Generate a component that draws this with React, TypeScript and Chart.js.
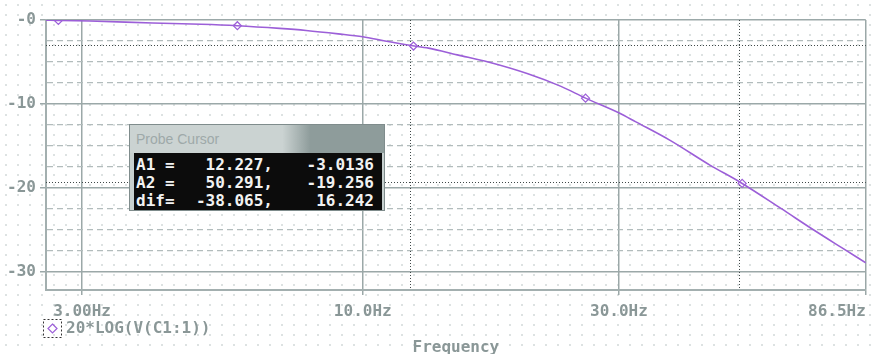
import React, { useEffect, useRef } from "react";
import { Chart, registerables } from "chart.js";

Chart.register(...registerables);

// ---- data ----
const freqHz = [2.57, 2.71, 3.1, 4.06, 5.0, 5.84, 7.0, 7.84, 9.0, 10.0, 11.0, 12.227, 13.26, 15.0, 17.13, 20.3, 23.4, 26.0, 30.1, 32.2, 37.3, 44.4, 50.291, 60.0, 69.2, 78.0, 86.5];
const gainDb = [-0.03, -0.05, -0.12, -0.35, -0.5, -0.68, -1.0, -1.25, -1.65, -2.0, -2.5, -3.0136, -3.35, -4.15, -5.0, -6.4, -7.9, -9.3, -11.1, -12.1, -14.3, -17.3, -19.256, -22.4, -25.0, -27.1, -28.9];

const markerHz = [2.71, 5.84, 12.43, 26.0, 50.9];
const markerDb = [-0.05, -0.68, -3.1, -9.3, -19.45];

const xRange = [2.57, 86.5];
const yRange = [-32.14, 0];

const xTickValues = [3, 10, 30, 86.5];
const xTickLabels = ["3.00Hz", "10.0Hz", "30.0Hz", "86.5Hz"];

const yGridValues = [0, -2.5, -5, -7.5, -10, -12.5, -15, -17.5, -20, -22.5, -25, -27.5, -30];
const yTickValues = [0, -10, -20, -30];
const yTickLabels = ["-0", "-10", "-20", "-30"];

const cursorA1 = [12.227, -3.0136];
const cursorA2 = [50.291, -19.256];
const cursorDif = [-38.065, 16.242];
const cursorText = [
  ["A1 =", "12.227,", "-3.0136"],
  ["A2 =", "50.291,", "-19.256"],
  ["dif=", "-38.065,", "16.242"],
];

const traceName = "20*LOG(V(C1:1))";
const xTitle = "Frequency";
const probeTitle = "Probe Cursor";

// ---- styles ----
const MONO = "'DejaVu Sans Mono', monospace";
const LABEL_GRAY = "#8a9797";
const MAJOR_GRID = "#9ba8a8";
const MINOR_GRID = "#b2bcbc";
const TRACE = "#9c5fd8";

const isMajorY = (v: number) => Math.abs(v % 10) < 1e-6;

const overlayPlugin = {
  id: "overlay",
  beforeDatasetsDraw(chart: any) {
    const { ctx, chartArea, scales } = chart;
    const xs = scales.x;
    const ys = scales.y;
    ctx.save();
    ctx.strokeStyle = "#3f4848";
    ctx.lineWidth = 1;
    ctx.setLineDash([1, 2]);
    [cursorA1[0], cursorA2[0]].forEach((f) => {
      const px = Math.round(xs.getPixelForValue(f)) + 0.5;
      ctx.beginPath();
      ctx.moveTo(px, chartArea.top);
      ctx.lineTo(px, chartArea.bottom);
      ctx.stroke();
    });
    [cursorA1[1], cursorA2[1]].forEach((d) => {
      const py = Math.round(ys.getPixelForValue(d)) + 0.5;
      ctx.beginPath();
      ctx.moveTo(chartArea.left, py);
      ctx.lineTo(chartArea.right, py);
      ctx.stroke();
    });
    ctx.restore();
  },
  afterDraw(chart: any) {
    const { ctx, chartArea } = chart;
    ctx.save();
    // legend
    const bx = chartArea.left - 3;
    const by = chartArea.bottom + 29;
    ctx.strokeStyle = "#333";
    ctx.lineWidth = 1;
    ctx.setLineDash([2, 2]);
    ctx.strokeRect(bx + 0.5, by + 0.5, 18, 18);
    ctx.setLineDash([]);
    const cx = bx + 9.5;
    const cy = by + 9.5;
    ctx.strokeStyle = TRACE;
    ctx.lineWidth = 1.2;
    ctx.beginPath();
    ctx.moveTo(cx, cy - 4.5);
    ctx.lineTo(cx + 4.5, cy);
    ctx.lineTo(cx, cy + 4.5);
    ctx.lineTo(cx - 4.5, cy);
    ctx.closePath();
    ctx.stroke();
    ctx.fillStyle = LABEL_GRAY;
    ctx.font = `bold 16px ${MONO}`;
    ctx.textBaseline = "middle";
    ctx.textAlign = "left";
    ctx.fillText(traceName, bx + 23, cy);
    ctx.restore();
  },
};

export default function App() {
  const canvasRef = useRef<HTMLCanvasElement | null>(null);

  useEffect(() => {
    if (!canvasRef.current) return;
    const chart = new Chart(canvasRef.current, {
      type: "line",
      data: {
        datasets: [
          {
            label: traceName,
            data: freqHz.map((f, i) => ({ x: f, y: gainDb[i] })),
            borderColor: TRACE,
            borderWidth: 1.6,
            pointRadius: 0,
            cubicInterpolationMode: "monotone",
            fill: false,
          },
          {
            label: "markers",
            data: markerHz.map((f, i) => ({ x: f, y: markerDb[i] })),
            showLine: false,
            pointStyle: "rectRot",
            pointRadius: 4,
            pointBorderWidth: 1.2,
            pointBorderColor: TRACE,
            pointBackgroundColor: "#ffffff",
          },
        ],
      },
      options: {
        animation: false,
        responsive: false,
        events: [],
        layout: { padding: { left: 0, top: 20, right: 2, bottom: 0 } },
        plugins: {
          legend: { display: false },
          tooltip: { enabled: false },
        },
        scales: {
          x: {
            type: "logarithmic",
            position: "bottom",
            bounds: "data",
            min: xRange[0],
            max: xRange[1],
            afterBuildTicks: (scale: any) => {
              scale.ticks = xTickValues.map((v) => ({ value: v }));
            },
            afterFit: (scale: any) => {
              scale.height = 64;
              scale.paddingLeft = 0;
              scale.paddingRight = 0;
            },
            ticks: {
              autoSkip: false,
              maxRotation: 0,
              minRotation: 0,
              padding: 7,
              color: LABEL_GRAY,
              font: { family: MONO, size: 16, weight: "bold" },
              callback: (_v: any, i: number) =>
                i === xTickLabels.length - 1
                  ? xTickLabels[i] + " ".repeat(xTickLabels[i].length)
                  : xTickLabels[i],
            },
            grid: {
              color: MAJOR_GRID,
              lineWidth: 1.5,
              tickLength: 5,
              tickColor: MAJOR_GRID,
            },
            border: { display: true, color: "#a3afaf", width: 2 },
            title: {
              display: true,
              text: xTitle,
              color: LABEL_GRAY,
              font: { family: MONO, size: 16, weight: "bold", lineHeight: 1 },
              padding: { top: 0, bottom: -2 },
            },
          },
          y: {
            type: "linear",
            position: "left",
            bounds: "data",
            min: yRange[0],
            max: yRange[1],
            afterBuildTicks: (scale: any) => {
              scale.ticks = yGridValues.map((v) => ({ value: v }));
            },
            afterFit: (scale: any) => {
              scale.width = 46;
            },
            ticks: {
              autoSkip: false,
              padding: 4,
              color: LABEL_GRAY,
              font: { family: MONO, size: 16, weight: "bold" },
              callback: (v: any) => {
                const idx = yTickValues.findIndex((t) => Math.abs(t - v) < 1e-6);
                return idx >= 0 ? yTickLabels[idx] : "";
              },
            },
            grid: {
              color: (ctx: any) => (ctx.tick && !isMajorY(ctx.tick.value) ? MINOR_GRID : MAJOR_GRID),
              lineWidth: (ctx: any) => (ctx.tick && !isMajorY(ctx.tick.value) ? 1.3 : 1.5),
              tickLength: 6,
              tickColor: (ctx: any) => (ctx.tick && !isMajorY(ctx.tick.value) ? "rgba(0,0,0,0)" : MAJOR_GRID),
            },
            border: {
              display: true,
              color: "#a3afaf",
              width: 2,
              dash: (ctx: any) => (ctx.tick && !isMajorY(ctx.tick.value) ? [6, 4] : []),
            },
          },
        },
      } as any,
      plugins: [overlayPlugin],
    });
    return () => chart.destroy();
  }, []);

  const rowTops = [3, 21, 39];

  return (
    <div
      style={{
        position: "absolute",
        left: 0,
        top: 0,
        width: 871,
        height: 354,
        backgroundColor: "#ffffff",
        backgroundImage: "radial-gradient(circle, #dde2e2 0.8px, rgba(255,255,255,0) 1.2px)",
        backgroundSize: "12px 10px",
        overflow: "hidden",
      }}
    >
      <canvas ref={canvasRef} width={871} height={354} style={{ display: "block", width: 871, height: 354 }} />
      <div
        style={{
          position: "absolute",
          left: 129,
          top: 124,
          width: 256,
          height: 87,
          boxSizing: "border-box",
          border: "1px solid #7f8c8c",
          background: "#c7d0cf",
        }}
      >
        <div
          style={{
            position: "absolute",
            left: 0,
            top: 0,
            right: 0,
            height: 28,
            background: "linear-gradient(to right, #cbd3d2 0%, #cbd3d2 60%, #8e9c9b 71%, #8e9c9b 100%)",
          }}
        >
          <span
            style={{
              position: "absolute",
              left: 6,
              top: 6,
              font: "14px 'Liberation Sans', Arial, sans-serif",
              color: "#9ea9a9",
              whiteSpace: "nowrap",
            }}
          >
            {probeTitle}
          </span>
        </div>
        <div
          style={{
            position: "absolute",
            left: 4,
            top: 28,
            right: 2,
            bottom: 0,
            background: "#0c0c0c",
            font: `bold 16px ${MONO}`,
            color: "#f2f2f2",
            lineHeight: "18px",
            whiteSpace: "pre",
          }}
        >
          {cursorText.map((row, i) => (
            <React.Fragment key={i}>
              <span style={{ position: "absolute", left: 2, top: rowTops[i] }}>{row[0]}</span>
              <span style={{ position: "absolute", left: 0, width: 139, textAlign: "right", top: rowTops[i] }}>{row[1]}</span>
              <span style={{ position: "absolute", left: 0, width: 240, textAlign: "right", top: rowTops[i] }}>{row[2]}</span>
            </React.Fragment>
          ))}
        </div>
      </div>
    </div>
  );
}
